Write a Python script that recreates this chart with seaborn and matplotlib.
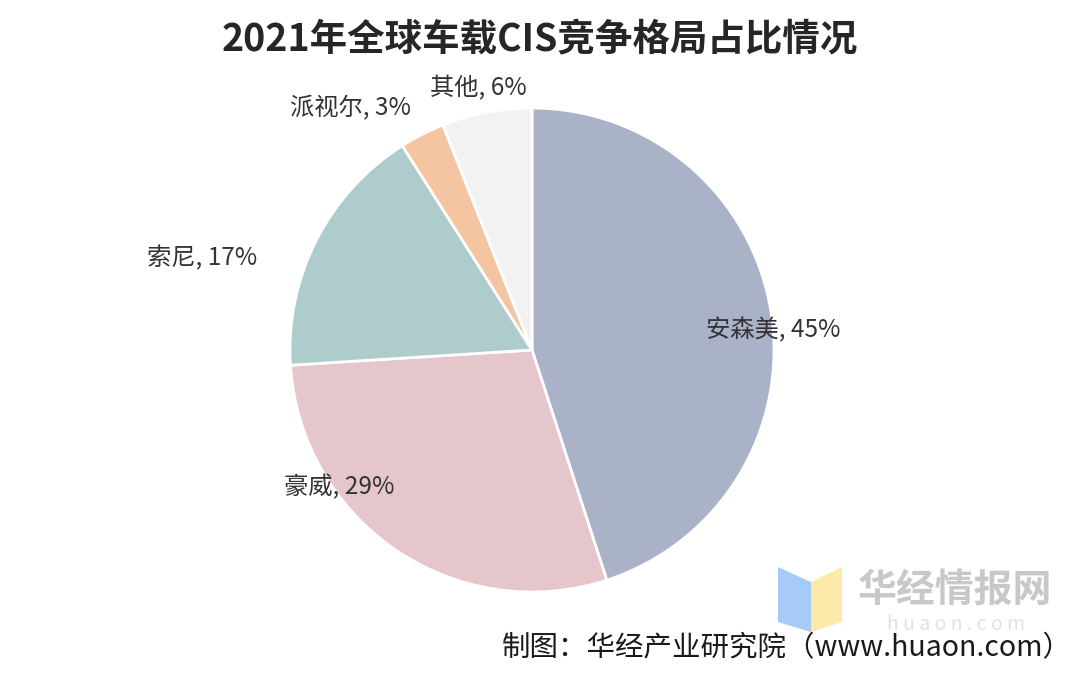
import numpy as np
import seaborn as sns
import matplotlib.pyplot as plt
from matplotlib.patches import Polygon

# data
companies = ["安森美", "豪威", "索尼", "派视尔", "其他"]
shares = [45, 29, 17, 3, 6]
colors = ["#A9B2C7", "#E5C6CA", "#AECCCB", "#F5C4A0", "#F2F2F2"]
title = "2021年全球车载CIS竞争格局占比情况"
source = "制图：华经产业研究院（www.huaon.com）"

# label anchor positions, in pie-radius units
label_pos = [(0.995, 0.083), (-0.795, -0.566), (-1.364, 0.38), (-0.752, 1.0), (-0.223, 1.083)]

sns.set_theme(style="white")
plt.rcParams['font.family'] = ['Noto Sans CJK SC', 'DejaVu Sans']

fig = plt.figure(figsize=(10.8, 6.73), dpi=100)
W, H = 1080, 673

# pie centred at (532, 350) px, radius 242 px
cx, cy, R = 532, 350, 242
ax = fig.add_axes([(cx - R) / W, (H - cy - R) / H, 2 * R / W, 2 * R / H])
wedges, _ = ax.pie(shares, colors=colors, startangle=90, counterclock=False,
                   radius=1.0, wedgeprops=dict(edgecolor="white", linewidth=2))
ax.set_xlim(-1, 1)
ax.set_ylim(-1, 1)
ax.set_aspect("equal")
ax.axis("off")

for name, val, (lx, ly) in zip(companies, shares, label_pos):
    ax.text(lx, ly, f"{name}, {val}%", ha="center", va="center",
            fontsize=17.5, color="#333333", clip_on=False)

fig.text(540 / W, 1 - 40 / H, title, ha="center", va="center",
         fontsize=27, fontweight="bold", color="#262626")

# watermark logo
fig.patches.append(Polygon([(778 / W, 1 - 567 / H), (811 / W, 1 - 582 / H),
                            (811 / W, 1 - 632 / H), (778 / W, 1 - 622 / H)],
                           closed=True, transform=fig.transFigure,
                           facecolor="#A7CBF7", edgecolor="none"))
fig.patches.append(Polygon([(811 / W, 1 - 582 / H), (842 / W, 1 - 567 / H),
                            (842 / W, 1 - 622 / H), (811 / W, 1 - 632 / H)],
                           closed=True, transform=fig.transFigure,
                           facecolor="#FDE9A9", edgecolor="none"))
fig.text(955 / W, 1 - 590 / H, "华经情报网", ha="center", va="center",
         fontsize=28, fontweight="bold", color="#C8C8C8")
fig.text(956 / W, 1 - 624 / H, "h u a o n . c o m", ha="center", va="center",
         fontsize=14, color="#E2E2E2")

fig.text(1072 / W, 1 - 648 / H, source, ha="right", va="center",
         fontsize=20.5, color="#1a1a1a")

fig.savefig("out.png", dpi=100, facecolor="white")
